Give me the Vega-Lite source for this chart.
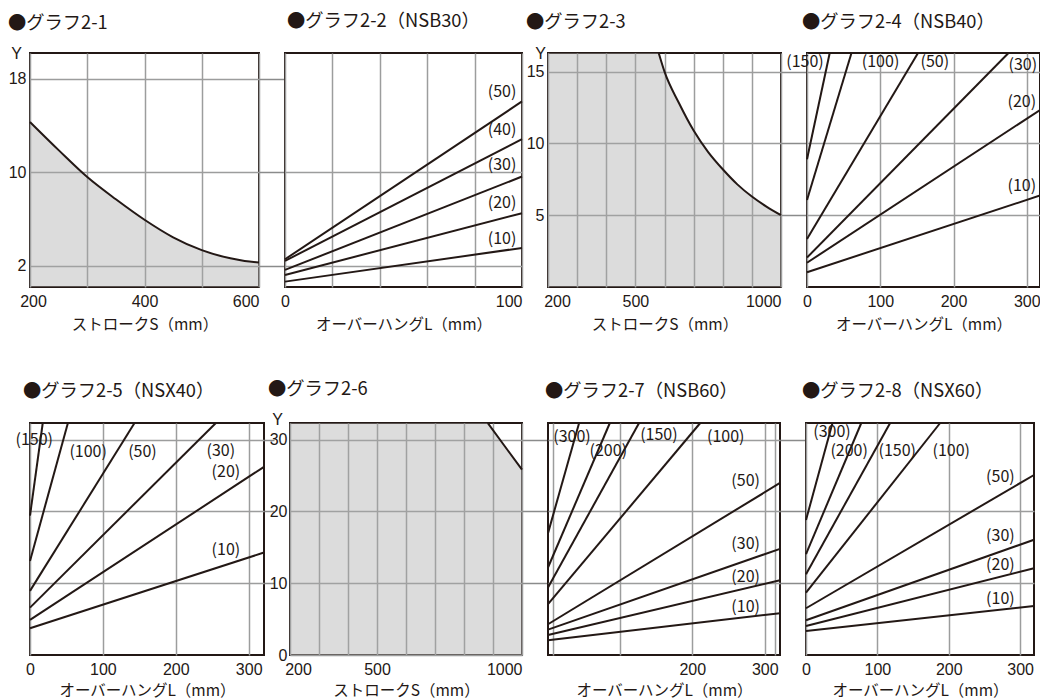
{
  "$schema": "https://vega.github.io/schema/vega-lite/v6.json",
  "background": "white",
  "padding": {"left": 7, "top": 10, "right": 0, "bottom": 0},
  "config": {
    "view": {"stroke": "#231815", "strokeWidth": 2},
    "axis": {"labelFont": "Liberation Sans", "labelFontSize": 16, "labelColor": "#231815", "titleFont": "Noto Sans CJK JP", "titleFontSize": 15.5, "titleFontWeight": "normal", "titleColor": "#231815", "gridColor": "#9c9d9d", "gridWidth": 1.5, "gridOpacity": 1, "domain": false, "ticks": false, "labelOverlap": false, "labelFlush": false, "labelPadding": 6, "titlePadding": 6, "tickColor": "#8a8b8b", "tickWidth": 1.5, "format": "d"},
    "axisY": {"labelPadding": 4},
    "title": {"font": "Noto Sans CJK JP", "fontSize": 18.3, "fontWeight": "normal", "anchor": "start", "frame": "group", "color": "#231815", "baseline": "bottom"},
    "text": {"font": "Noto Sans CJK JP", "fontSize": 16, "color": "#231815"},
    "line": {"color": "#231815", "strokeWidth": 2}
  },
  "spacing": 44,
  "vconcat": [
    {
      "hconcat": [
        {
          "width": 229, "height": 234,
          "title": {"text": "●グラフ2-1", "dx": -22, "offset": 12},
          "encoding": {"x": {"field": "x", "type": "quantitative", "scale": {"domain": [200, 600], "nice": false, "zero": false},
            "axis": {"values": [200, 300, 400, 500, 600], "labelExpr": "datum.value % 200 == 0 ? datum.label : ''",
              "labelAlign": {"condition": {"test": "datum.value == 600", "value": "right"}, "value": "center"},
              "labelOffset": {"condition": {"test": "datum.value == 200", "value": 3}, "value": 0},
              "title": "ストロークS（mm）", "titlePadding": 8}}},
          "layer": [
            {"data": {"values": [{"x": 200, "y": 14.3}, {"x": 250, "y": 11.9}, {"x": 300, "y": 9.6}, {"x": 350, "y": 7.7}, {"x": 400, "y": 5.95}, {"x": 450, "y": 4.45}, {"x": 500, "y": 3.35}, {"x": 550, "y": 2.65}, {"x": 575, "y": 2.42}, {"x": 600, "y": 2.3}]},
             "mark": {"type": "area", "interpolate": "monotone", "fill": "#a7a8a8", "fillOpacity": 0.4, "clip": true},
             "encoding": {"y": {"field": "y", "type": "quantitative", "scale": {"domain": [0.2, 20.2], "nice": false, "zero": false},
               "axis": {"values": [2, 10, 18], "title": "Y", "titleAngle": 0, "titleX": -14, "titleY": 0, "titleAlign": "center", "titleBaseline": "middle", "titleFont": "Liberation Sans", "titleFontSize": 16}}}},
            {"data": {"values": [{"x": 200, "y": 14.3}, {"x": 250, "y": 11.9}, {"x": 300, "y": 9.6}, {"x": 350, "y": 7.7}, {"x": 400, "y": 5.95}, {"x": 450, "y": 4.45}, {"x": 500, "y": 3.35}, {"x": 550, "y": 2.65}, {"x": 575, "y": 2.42}, {"x": 600, "y": 2.3}]},
             "mark": {"type": "line", "interpolate": "monotone"},
             "encoding": {"y": {"field": "y", "type": "quantitative", "scale": {"domain": [0.2, 20.2], "nice": false, "zero": false},
               "axis": {"orient": "right", "values": [2, 10, 18], "labels": false, "ticks": true, "tickSize": 26, "grid": false, "title": null}}}}
          ],
          "resolve": {"axis": {"y": "independent"}}
        },
        {
          "width": 237, "height": 234,
          "title": {"text": "●グラフ2-2（NSB30）", "dx": 2, "offset": 22},
          "encoding": {"x": {"field": "x", "type": "quantitative", "scale": {"domain": [0, 100], "nice": false, "zero": false},
            "axis": {"values": [0, 20, 40, 60, 80, 100], "labelExpr": "datum.value == 0 || datum.value == 100 ? datum.label : ''",
              "labelAlign": {"condition": {"test": "datum.value == 100", "value": "right"}, "value": "center"},
              "title": "オーバーハングL（mm）", "titlePadding": 8}}},
          "layer": [
            {"data": {"values": [
              {"s": "50", "x": 0, "y": 2.57}, {"s": "50", "x": 100, "y": 16.06},
              {"s": "40", "x": 0, "y": 2.43}, {"s": "40", "x": 100, "y": 12.84},
              {"s": "30", "x": 0, "y": 1.66}, {"s": "30", "x": 100, "y": 9.64},
              {"s": "20", "x": 0, "y": 1.23}, {"s": "20", "x": 100, "y": 6.51},
              {"s": "10", "x": 0, "y": 0.66}, {"s": "10", "x": 100, "y": 3.54}]},
             "mark": {"type": "line"},
             "encoding": {"detail": {"field": "s"}, "y": {"field": "y", "type": "quantitative", "scale": {"domain": [0.2, 20.2], "nice": false, "zero": false},
               "axis": {"values": [2, 10], "labels": false, "title": null}}}},
            {"data": {"values": [
              {"x": 91.6, "y": 16.9, "t": "(50)"}, {"x": 91.6, "y": 13.64, "t": "(40)"}, {"x": 91.6, "y": 10.64, "t": "(30)"}, {"x": 91.6, "y": 7.36, "t": "(20)"}, {"x": 91.6, "y": 4.28, "t": "(10)"}]},
             "mark": {"type": "text"},
             "encoding": {"text": {"field": "t"}, "y": {"field": "y", "type": "quantitative", "scale": {"domain": [0.2, 20.2], "nice": false, "zero": false}, "axis": null}}}
          ],
          "resolve": {"axis": {"y": "independent"}}
        },
        {
          "width": 233, "height": 234,
          "title": {"text": "●グラフ2-3", "dx": -22, "offset": 13},
          "encoding": {"x": {"field": "x", "type": "quantitative", "scale": {"domain": [200, 1000], "nice": false, "zero": false},
            "axis": {"values": [200, 300, 400, 500, 600, 700, 800, 900, 1000], "labelExpr": "datum.value == 200 || datum.value == 500 || datum.value == 1000 ? datum.label : ''",
              "labelAlign": {"condition": {"test": "datum.value == 1000", "value": "right"}, "value": "center"},
              "labelOffset": {"condition": {"test": "datum.value == 200", "value": 9}, "value": 0},
              "title": "ストロークS（mm）", "titlePadding": 8}}},
          "layer": [
            {"data": {"values": [{"x": 200, "y": 16.3}, {"x": 580, "y": 16.3}, {"x": 600, "y": 15}, {"x": 650, "y": 12.8}, {"x": 700, "y": 10.9}, {"x": 750, "y": 9.4}, {"x": 800, "y": 8.2}, {"x": 850, "y": 7.15}, {"x": 900, "y": 6.3}, {"x": 950, "y": 5.6}, {"x": 1000, "y": 5.0}]},
             "mark": {"type": "area", "interpolate": "monotone", "fill": "#a7a8a8", "fillOpacity": 0.4, "clip": true},
             "encoding": {"y": {"field": "y", "type": "quantitative", "scale": {"domain": [0, 16.3], "nice": false, "zero": false},
               "axis": {"values": [5, 10, 15], "title": "Y", "titleAngle": 0, "titleX": -8, "titleY": 0, "titleAlign": "center", "titleBaseline": "middle", "titleFont": "Liberation Sans", "titleFontSize": 16}}}},
            {"data": {"values": [{"x": 580, "y": 16.3}, {"x": 600, "y": 15}, {"x": 650, "y": 12.8}, {"x": 700, "y": 10.9}, {"x": 750, "y": 9.4}, {"x": 800, "y": 8.2}, {"x": 850, "y": 7.15}, {"x": 900, "y": 6.3}, {"x": 950, "y": 5.6}, {"x": 1000, "y": 5.0}]},
             "mark": {"type": "line", "interpolate": "monotone"},
             "encoding": {"y": {"field": "y", "type": "quantitative", "scale": {"domain": [0, 16.3], "nice": false, "zero": false},
               "axis": {"orient": "right", "values": [5, 10, 15], "labels": false, "ticks": true, "tickSize": 26, "grid": false, "title": null}}}}
          ],
          "resolve": {"axis": {"y": "independent"}}
        },
        {
          "width": 233, "height": 234,
          "title": {"text": "●グラフ2-4（NSB40）", "dx": -5, "offset": 17},
          "encoding": {"x": {"field": "x", "type": "quantitative", "scale": {"domain": [0, 318], "nice": false, "zero": false},
            "axis": {"values": [0, 100, 200, 300], "title": "オーバーハングL（mm）", "titlePadding": 8}}},
          "layer": [
            {"data": {"values": [
              {"s": "10", "x": 0, "y": 1.03}, {"s": "10", "x": 318, "y": 6.37},
              {"s": "20", "x": 0, "y": 1.69}, {"s": "20", "x": 318, "y": 12.33},
              {"s": "30", "x": 0, "y": 2.05}, {"s": "30", "x": 275, "y": 16.3},
              {"s": "50", "x": 0, "y": 3.35}, {"s": "50", "x": 151.5, "y": 16.3},
              {"s": "100", "x": 0, "y": 6.06}, {"s": "100", "x": 60.7, "y": 16.3},
              {"s": "150", "x": 0, "y": 8.9}, {"s": "150", "x": 31, "y": 16.3}]},
             "mark": {"type": "line"},
             "encoding": {"detail": {"field": "s"}, "y": {"field": "y", "type": "quantitative", "scale": {"domain": [0, 16.3], "nice": false, "zero": false},
               "axis": {"values": [5, 10, 15], "labels": false, "title": null}}}},
            {"data": {"values": [
              {"x": -2.7, "y": 15.64, "t": "(150)"}, {"x": 100.4, "y": 15.64, "t": "(100)"}, {"x": 174.4, "y": 15.69, "t": "(50)"}, {"x": 294.5, "y": 15.45, "t": "(30)"}, {"x": 293.2, "y": 12.92, "t": "(20)"}, {"x": 293.2, "y": 7.06, "t": "(10)"}]},
             "mark": {"type": "text"},
             "encoding": {"text": {"field": "t"}, "y": {"field": "y", "type": "quantitative", "scale": {"domain": [0, 16.3], "nice": false, "zero": false}, "axis": null}}}
          ],
          "resolve": {"axis": {"y": "independent"}}
        }
      ],
      "spacing": 26,
      "bounds": "flush"
    },
    {
      "hconcat": [
        {
          "width": 234, "height": 232,
          "title": {"text": "●グラフ2-5（NSX40）", "dx": -7, "offset": 18},
          "encoding": {"x": {"field": "x", "type": "quantitative", "scale": {"domain": [0, 321], "nice": false, "zero": false},
            "axis": {"values": [0, 100, 200, 300], "title": "オーバーハングL（mm）"}}},
          "layer": [
            {"data": {"values": [
              {"s": "10", "x": 0, "y": 3.72}, {"s": "10", "x": 321, "y": 14.27},
              {"s": "20", "x": 0, "y": 4.88}, {"s": "20", "x": 321, "y": 26.2},
              {"s": "30", "x": 0, "y": 6.6}, {"s": "30", "x": 255, "y": 32.3},
              {"s": "50", "x": 0, "y": 8.93}, {"s": "50", "x": 143.4, "y": 32.3},
              {"s": "100", "x": 0, "y": 13.1}, {"s": "100", "x": 52, "y": 32.3},
              {"s": "150", "x": 0, "y": 19.4}, {"s": "150", "x": 17.5, "y": 32.3}]},
             "mark": {"type": "line"},
             "encoding": {"detail": {"field": "s"}, "y": {"field": "y", "type": "quantitative", "scale": {"domain": [0, 32.3], "nice": false, "zero": false},
               "axis": {"values": [10, 20, 30], "labels": false, "title": null}}}},
            {"data": {"values": [{"x": 0, "y": 0}]},
             "mark": {"type": "point", "opacity": 0},
             "encoding": {"y": {"field": "y", "type": "quantitative", "scale": {"domain": [0, 32.3], "nice": false, "zero": false},
               "axis": {"orient": "right", "values": [10, 20, 30], "labels": false, "ticks": true, "tickSize": 10, "grid": false, "title": null}}}},
            {"data": {"values": [
              {"x": 5.9, "y": 30.0, "t": "(150)"}, {"x": 79.8, "y": 28.2, "t": "(100)"}, {"x": 154.2, "y": 28.2, "t": "(50)"}, {"x": 261.8, "y": 28.35, "t": "(30)"}, {"x": 268.7, "y": 25.52, "t": "(20)"}, {"x": 268.7, "y": 14.6, "t": "(10)"}]},
             "mark": {"type": "text"},
             "encoding": {"text": {"field": "t"}, "y": {"field": "y", "type": "quantitative", "scale": {"domain": [0, 32.3], "nice": false, "zero": false}, "axis": null}}}
          ],
          "resolve": {"axis": {"y": "independent"}}
        },
        {
          "width": 232, "height": 232,
          "title": {"text": "●グラフ2-6", "dx": -22, "offset": 12},
          "encoding": {"x": {"field": "x", "type": "quantitative", "scale": {"domain": [200, 1000], "nice": false, "zero": false},
            "axis": {"values": [200, 300, 400, 500, 600, 700, 800, 900, 1000], "labelExpr": "datum.value == 200 || datum.value == 500 || datum.value == 1000 ? datum.label : ''",
              "labelAlign": {"condition": {"test": "datum.value == 1000", "value": "right"}, "value": "center"},
              "labelOffset": {"condition": {"test": "datum.value == 200", "value": 8}, "value": 0},
              "title": "ストロークS（mm）"}}},
          "layer": [
            {"data": {"values": [{"x": 200, "y": 32.3}, {"x": 882, "y": 32.3}, {"x": 940, "y": 29.1}, {"x": 1000, "y": 25.8}]},
             "mark": {"type": "area", "fill": "#a7a8a8", "fillOpacity": 0.4, "clip": true},
             "encoding": {"y": {"field": "y", "type": "quantitative", "scale": {"domain": [0, 32.3], "nice": false, "zero": false},
               "axis": {"values": [0, 10, 20, 30], "labelPadding": 3, "title": "Y", "titleAngle": 0, "titleX": -13, "titleY": -4, "titleAlign": "center", "titleBaseline": "middle", "titleFont": "Liberation Sans", "titleFontSize": 16}}}},
            {"data": {"values": [{"x": 882, "y": 32.3}, {"x": 940, "y": 29.1}, {"x": 1000, "y": 25.8}]},
             "mark": {"type": "line", "interpolate": "monotone"},
             "encoding": {"y": {"field": "y", "type": "quantitative", "scale": {"domain": [0, 32.3], "nice": false, "zero": false},
               "axis": {"orient": "right", "values": [10, 20, 30], "labels": false, "ticks": true, "tickSize": 26, "grid": false, "title": null}}}}
          ],
          "resolve": {"axis": {"y": "independent"}}
        },
        {
          "width": 232, "height": 232,
          "title": {"text": "●グラフ2-7（NSB60）", "dx": -3, "offset": 18},
          "encoding": {"x": {"field": "x", "type": "quantitative", "scale": {"domain": [1, 321], "nice": false, "zero": false},
            "axis": {"values": [8, 100, 200, 300, 314], "labelExpr": "datum.value == 200 || datum.value == 300 ? datum.label : ''", "title": "オーバーハングL（mm）"}}},
          "layer": [
            {"data": {"values": [
              {"s": "10", "x": 1, "y": 2.05}, {"s": "10", "x": 321, "y": 5.82},
              {"s": "20", "x": 1, "y": 2.79}, {"s": "20", "x": 321, "y": 10.42},
              {"s": "30", "x": 1, "y": 3.53}, {"s": "30", "x": 321, "y": 14.78},
              {"s": "50", "x": 1, "y": 4.28}, {"s": "50", "x": 321, "y": 23.95},
              {"s": "100", "x": 1, "y": 7.07}, {"s": "100", "x": 211, "y": 32.3},
              {"s": "150", "x": 1, "y": 9.39}, {"s": "150", "x": 126.6, "y": 32.3},
              {"s": "200", "x": 1, "y": 12.18}, {"s": "200", "x": 86.3, "y": 32.3},
              {"s": "300", "x": 1, "y": 16.97}, {"s": "300", "x": 43.9, "y": 32.3}]},
             "mark": {"type": "line"},
             "encoding": {"detail": {"field": "s"}, "y": {"field": "y", "type": "quantitative", "scale": {"domain": [0, 32.3], "nice": false, "zero": false},
               "axis": {"values": [10, 20, 30], "labels": false, "title": null}}}},
            {"data": {"values": [{"x": 1, "y": 0}]},
             "mark": {"type": "point", "opacity": 0},
             "encoding": {"y": {"field": "y", "type": "quantitative", "scale": {"domain": [0, 32.3], "nice": false, "zero": false},
               "axis": {"orient": "right", "values": [10, 20, 30], "labels": false, "ticks": true, "tickSize": 26, "grid": false, "title": null}}}},
            {"data": {"values": [
              {"x": 34.1, "y": 30.31, "t": "(300)"}, {"x": 84.2, "y": 28.45, "t": "(200)"}, {"x": 154, "y": 30.68, "t": "(150)"}, {"x": 246.2, "y": 30.4, "t": "(100)"},
              {"x": 273.6, "y": 24.17, "t": "(50)"}, {"x": 273.6, "y": 15.52, "t": "(30)"}, {"x": 273.6, "y": 10.88, "t": "(20)"}, {"x": 273.6, "y": 6.69, "t": "(10)"}]},
             "mark": {"type": "text"},
             "encoding": {"text": {"field": "t"}, "y": {"field": "y", "type": "quantitative", "scale": {"domain": [0, 32.3], "nice": false, "zero": false}, "axis": null}}}
          ],
          "resolve": {"axis": {"y": "independent"}}
        },
        {
          "width": 228, "height": 232,
          "title": {"text": "●グラフ2-8（NSX60）", "dx": -4, "offset": 18},
          "encoding": {"x": {"field": "x", "type": "quantitative", "scale": {"domain": [0, 319.5], "nice": false, "zero": false},
            "axis": {"values": [0, 100, 200, 300], "title": "オーバーハングL（mm）"}}},
          "layer": [
            {"data": {"values": [
              {"s": "10", "x": 0, "y": 3.35}, {"s": "10", "x": 319.5, "y": 6.83},
              {"s": "20", "x": 0, "y": 4.04}, {"s": "20", "x": 319.5, "y": 12.09},
              {"s": "30", "x": 0, "y": 4.84}, {"s": "30", "x": 319.5, "y": 16.04},
              {"s": "50", "x": 0, "y": 6.51}, {"s": "50", "x": 319.5, "y": 25.06},
              {"s": "100", "x": 0, "y": 8.69}, {"s": "100", "x": 188, "y": 32.3},
              {"s": "150", "x": 0, "y": 11.25}, {"s": "150", "x": 117.9, "y": 32.3},
              {"s": "200", "x": 0, "y": 14.04}, {"s": "200", "x": 77.5, "y": 32.3},
              {"s": "300", "x": 0, "y": 18.79}, {"s": "300", "x": 37.1, "y": 32.3}]},
             "mark": {"type": "line"},
             "encoding": {"detail": {"field": "s"}, "y": {"field": "y", "type": "quantitative", "scale": {"domain": [0, 32.3], "nice": false, "zero": false},
               "axis": {"values": [10, 20], "labels": false, "title": null}}}},
            {"data": {"values": [
              {"x": 36.5, "y": 31.0, "t": "(300)"}, {"x": 60.5, "y": 28.45, "t": "(200)"}, {"x": 127.9, "y": 28.45, "t": "(150)"}, {"x": 203.6, "y": 28.45, "t": "(100)"},
              {"x": 272.4, "y": 24.73, "t": "(50)"}, {"x": 272.4, "y": 16.5, "t": "(30)"}, {"x": 272.4, "y": 12.55, "t": "(20)"}, {"x": 272.4, "y": 7.77, "t": "(10)"}]},
             "mark": {"type": "text"},
             "encoding": {"text": {"field": "t"}, "y": {"field": "y", "type": "quantitative", "scale": {"domain": [0, 32.3], "nice": false, "zero": false}, "axis": null}}}
          ],
          "resolve": {"axis": {"y": "independent"}}
        }
      ],
      "spacing": 26,
      "bounds": "flush"
    }
  ]
}
